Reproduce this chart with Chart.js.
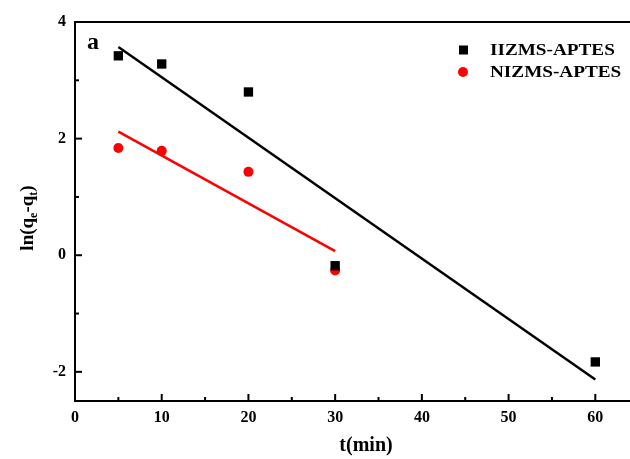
<!DOCTYPE html>
<html>
<head>
<meta charset="utf-8">
<script src="https://cdn.jsdelivr.net/npm/chart.js@4/dist/chart.umd.min.js"></script>
<style>
  html, body { margin: 0; padding: 0; background: #fff; }
  #wrap { width: 630px; height: 459px; }
</style>
</head>
<body>
<div id="wrap"><canvas id="chart"></canvas></div>
<script>
// time points (min) and ln(qe-qt)
const timeIIZMS = [5, 10, 20, 30, 60];
const lnIIZMS = [3.42, 3.28, 2.80, -0.18, -1.83];
const timeNIZMS = [5, 10, 20, 30];
const lnNIZMS = [1.84, 1.79, 1.43, -0.26];

// linear fit end points
const fitIIZMSx = [5, 60];
const fitIIZMSy = [3.57, -2.13];
const fitNIZMSx = [5, 30];
const fitNIZMSy = [2.12, 0.07];

const xTicks = [0, 10, 20, 30, 40, 50, 60];
const yTicks = [-2, 0, 2, 4];

const serif = '"Liberation Serif", "Times New Roman", serif';

function toPoints(xs, ys) {
    return xs.map((x, i) => ({ x: x, y: ys[i] }));
}

// top frame, inward ticks, panel letter, legend and axis titles
const decorPlugin = {
    id: 'decor',
    afterDraw(chart) {
        const ctx = chart.ctx;
        const xs = chart.scales.x;
        const ys = chart.scales.y;
        const area = chart.chartArea;
        ctx.save();
        ctx.strokeStyle = '#000';
        ctx.lineWidth = 2;

        ctx.beginPath();
        ctx.moveTo(area.left - 1, area.top);
        ctx.lineTo(chart.width, area.top);
        ctx.stroke();

        for (let v = 5; v <= 60; v += 5) {
            const px = xs.getPixelForValue(v);
            const len = v % 10 === 0 ? 7 : 4;
            ctx.beginPath();
            ctx.moveTo(px, area.bottom);
            ctx.lineTo(px, area.bottom - len);
            ctx.stroke();
        }
        for (let v = -2; v <= 3; v += 1) {
            const py = ys.getPixelForValue(v);
            const len = v % 2 === 0 ? 7 : 4;
            ctx.beginPath();
            ctx.moveTo(area.left, py);
            ctx.lineTo(area.left + len, py);
            ctx.stroke();
        }

        // panel letter
        ctx.fillStyle = '#000';
        ctx.font = 'bold 24px ' + serif;
        ctx.textAlign = 'left';
        ctx.textBaseline = 'alphabetic';
        ctx.fillText('a', 87, 49);

        // legend
        const items = [
            { label: 'IIZMS-APTES', color: '#000', style: 'rect', y: 50 },
            { label: 'NIZMS-APTES', color: '#ff0000', style: 'circle', y: 72 }
        ];
        ctx.font = 'bold 16px ' + serif;
        ctx.textBaseline = 'middle';
        items.forEach(it => {
            ctx.fillStyle = it.color;
            if (it.style === 'rect') {
                ctx.fillRect(459, it.y - 4.5, 9, 9);
            } else {
                ctx.beginPath();
                ctx.arc(463, it.y, 5, 0, Math.PI * 2);
                ctx.fill();
            }
            ctx.fillStyle = '#000';
            ctx.save();
            ctx.translate(490, it.y);
            ctx.scale(1.2, 1);
            ctx.fillText(it.label, 0, 1);
            ctx.restore();
        });

        // x axis title
        ctx.font = 'bold 20px ' + serif;
        ctx.textAlign = 'center';
        ctx.textBaseline = 'middle';
        ctx.fillText('t(min)', 366, 446);

        // y axis title with subscripts
        ctx.save();
        ctx.translate(26, 218);
        ctx.rotate(-Math.PI / 2);
        const parts = [
            ['ln(q', 19, 0], ['e', 12, 4], ['-q', 19, 0], ['t', 12, 4], [')', 19, 0]
        ];
        let total = 0;
        parts.forEach(p => { ctx.font = 'bold ' + p[1] + 'px ' + serif; total += ctx.measureText(p[0]).width; });
        let cx = -total / 2;
        ctx.textAlign = 'left';
        ctx.textBaseline = 'alphabetic';
        parts.forEach(p => {
            ctx.font = 'bold ' + p[1] + 'px ' + serif;
            ctx.fillText(p[0], cx, 7 + p[2]);
            cx += ctx.measureText(p[0]).width;
        });
        ctx.restore();

        ctx.restore();
    }
};

new Chart(document.getElementById('chart'), {
    type: 'scatter',
    data: {
        datasets: [
            {
                label: 'IIZMS-APTES',
                data: toPoints(timeIIZMS, lnIIZMS),
                pointStyle: 'rect',
                pointRadius: 6.6,
                backgroundColor: '#000',
                borderColor: '#000',
                borderWidth: 0
            },
            {
                label: 'NIZMS-APTES',
                data: toPoints(timeNIZMS, lnNIZMS),
                pointStyle: 'circle',
                pointRadius: 5,
                backgroundColor: '#ff0000',
                borderColor: '#ff0000',
                borderWidth: 0
            },
            {
                label: 'fit IIZMS',
                data: toPoints(fitIIZMSx, fitIIZMSy),
                showLine: true,
                pointRadius: 0,
                borderColor: '#000',
                borderWidth: 2.5
            },
            {
                label: 'fit NIZMS',
                data: toPoints(fitNIZMSx, fitNIZMSy),
                showLine: true,
                pointRadius: 0,
                borderColor: '#ff0000',
                borderWidth: 2.5
            }
        ]
    },
    options: {
        responsive: true,
        maintainAspectRatio: false,
        animation: false,
        layout: { autoPadding: false, padding: { top: 22, right: 0, left: 0, bottom: 0 } },
        plugins: {
            legend: { display: false },
            tooltip: { enabled: false }
        },
        scales: {
            x: {
                type: 'linear',
                min: 0,
                max: 64,
                afterBuildTicks(scale) { scale.ticks = xTicks.map(v => ({ value: v })); },
                afterFit(scale) {
                    scale.height = 58;
                    scale.paddingLeft = 0;
                    scale.paddingRight = 0;
                },
                grid: { display: false, drawTicks: false },
                border: { display: true, color: '#000', width: 2 },
                ticks: {
                    padding: 7,
                    color: '#000',
                    font: { family: serif, size: 16, weight: 'bold' }
                }
            },
            y: {
                min: -2.5,
                max: 4,
                afterBuildTicks(scale) { scale.ticks = yTicks.map(v => ({ value: v })); },
                afterFit(scale) { scale.width = 75; },
                grid: { display: false, drawTicks: false },
                border: { display: true, color: '#000', width: 2 },
                ticks: {
                    padding: 9,
                    color: '#000',
                    font: { family: serif, size: 16, weight: 'bold' }
                }
            }
        }
    },
    plugins: [decorPlugin]
});
</script>
</body>
</html>
